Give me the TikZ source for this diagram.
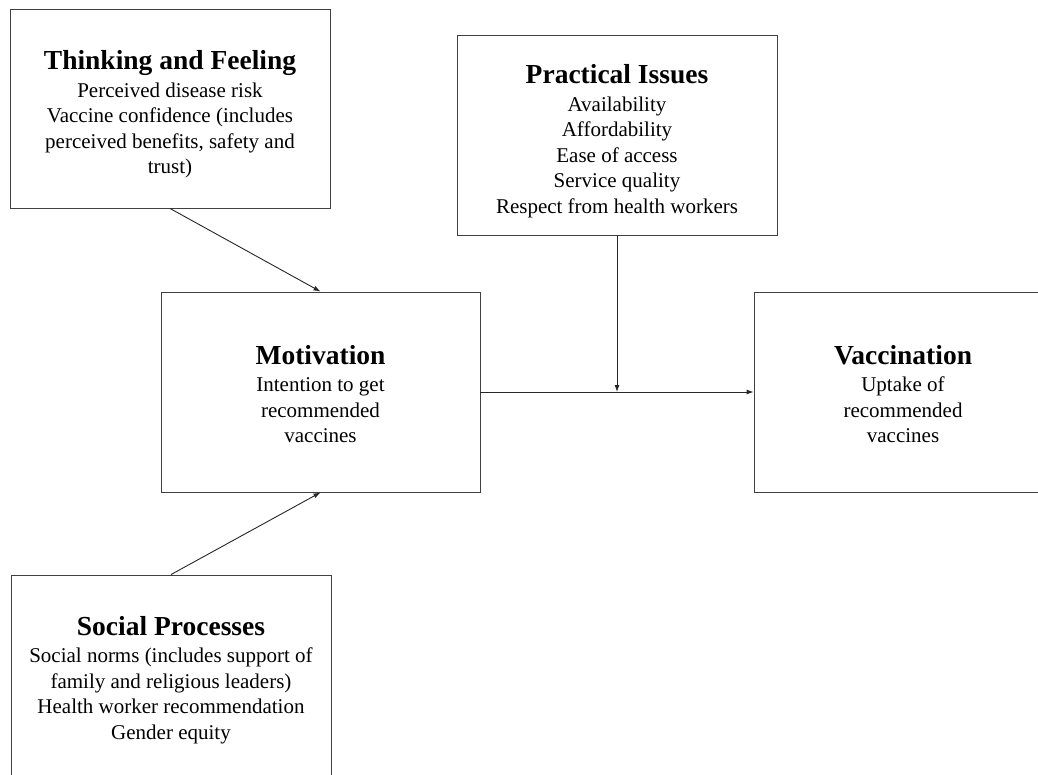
\documentclass[tikz,border=0pt]{standalone}
\usepackage{fontspec}
\setmainfont{Liberation Serif}
\usetikzlibrary{arrows.meta}

% title line of a factor box; the optional strut pushes the text down a little
\newcommand{\factortitle}[2][23pt]{{\fontsize{27.5}{26}\selectfont\bfseries\rule{0pt}{#1}#2}\\[2pt]}

\begin{document}
\begin{tikzpicture}[x=1pt,y=-1pt,
        factor/.style={draw=black!75,line width=0.9pt,align=center,inner sep=0pt,
            minimum height=200pt,font=\fontsize{21}{25.5}\selectfont},
        link/.style={draw=black!85,line width=0.9pt,-{Latex[length=7pt,width=5pt]}}]
    \clip (0,0) rectangle (1038,774);

    % the five factors
    \node[factor,minimum width=320pt,minimum height=199pt] (thinking) at (170,108.5)
        {\factortitle[31pt]{Thinking and Feeling} Perceived disease risk\\ Vaccine confidence (includes\\ perceived benefits, safety and\\ trust)};
    \node[factor,minimum width=320pt] (practical) at (617,135)
        {\factortitle[31pt]{Practical Issues} Availability\\ Affordability\\ Ease of access\\ Service quality\\ Respect from health workers};
    \node[factor,minimum width=319pt] (motivation) at (320.5,392)
        {\factortitle{Motivation} Intention to get\\ recommended\\ vaccines};
    \node[factor,minimum width=298pt] (vaccination) at (903,392)
        {\factortitle{Vaccination} Uptake of\\ recommended\\ vaccines};
    \node[factor,minimum width=320pt,minimum height=204pt] (social) at (171,677)
        {\factortitle[25pt]{Social Processes} Social norms (includes support of\\ family and religious leaders)\\ Health worker recommendation\\ Gender equity};

    % connectors
    \coordinate (join) at (practical.south |- motivation.east);
    \draw[link] (thinking.south) -- (motivation.north);
    \draw[link] (social.north) -- (motivation.south);
    \draw[link] (motivation.east) -- (vaccination.west);
    \draw[link] (practical.south) -- (join);
\end{tikzpicture}
\end{document}
